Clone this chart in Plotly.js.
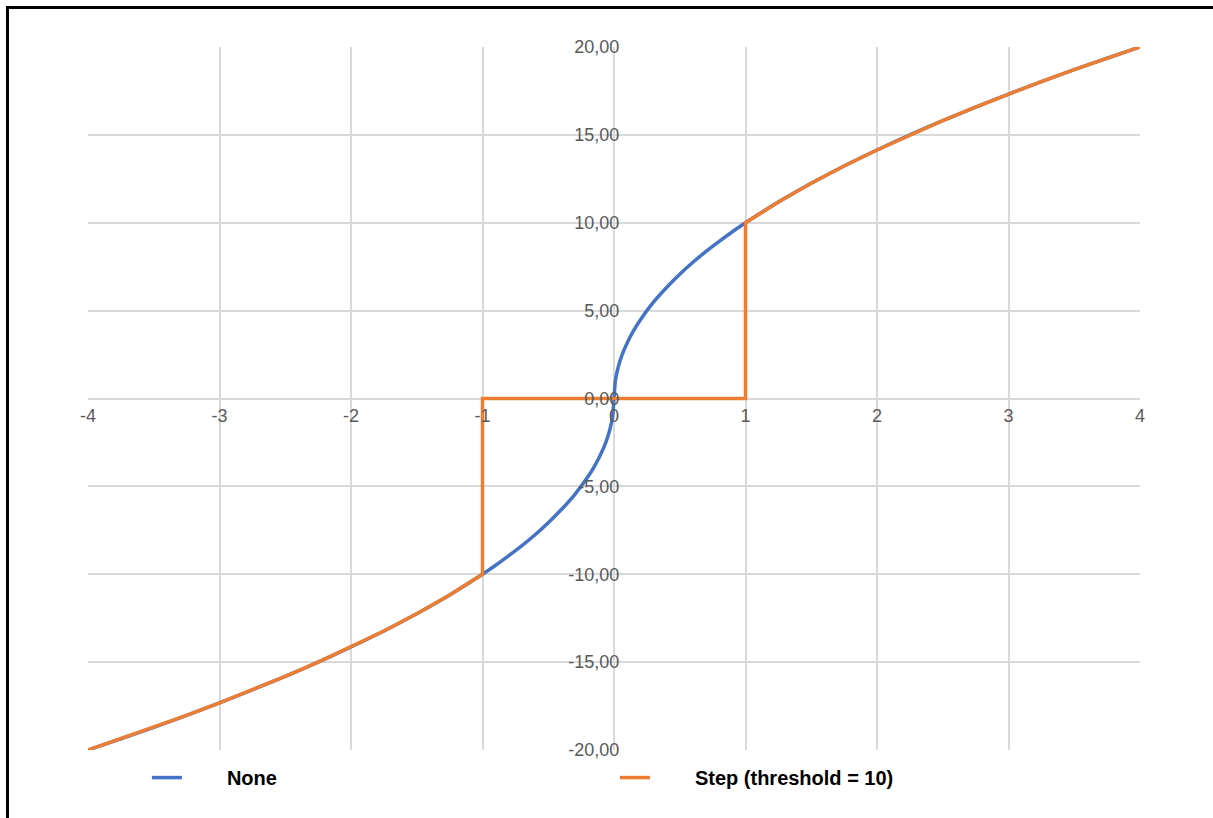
<!DOCTYPE html>
<html>
<head>
<meta charset="utf-8">
<script src="https://cdn.plot.ly/plotly-3.0.1.min.js"></script>
<style>
  html, body { margin: 0; padding: 0; background: #fff; overflow: hidden; }
  #chart { width: 1213px; height: 818px; }
  #frame { position: absolute; left: 6px; top: 6px; width: 1300px; height: 900px;
           border: 3px solid #000; pointer-events: none; box-sizing: border-box; }
</style>
</head>
<body>
<div id="chart"></div>
<div id="frame"></div>
<script>
// Series "None"
const noneX = [-4, -3.75, -3.5, -3.25, -3, -2.75, -2.5, -2.25, -2, -1.75, -1.5, -1.25, -1, -0.9, -0.8, -0.7, -0.6, -0.5, -0.4, -0.3, -0.2, -0.15, -0.1, -0.06, -0.03, -0.01, 0,
               0.01, 0.03, 0.06, 0.1, 0.15, 0.2, 0.3, 0.4, 0.5, 0.6, 0.7, 0.8, 0.9, 1, 1.25, 1.5, 1.75, 2, 2.25, 2.5, 2.75, 3, 3.25, 3.5, 3.75, 4];
const noneY = [-20, -19.36, -18.71, -18.03, -17.32, -16.58, -15.81, -15.0, -14.14, -13.23, -12.25, -11.18, -10, -9.49, -8.94, -8.37, -7.75, -7.07, -6.32, -5.48, -4.47, -3.87, -3.16, -2.45, -1.73, -1.0, 0,
               1.0, 1.73, 2.45, 3.16, 3.87, 4.47, 5.48, 6.32, 7.07, 7.75, 8.37, 8.94, 9.49, 10, 11.18, 12.25, 13.23, 14.14, 15.0, 15.81, 16.58, 17.32, 18.03, 18.71, 19.36, 20];

// Series "Step (threshold = 10)"
const stepX = [-4, -3.75, -3.5, -3.25, -3, -2.75, -2.5, -2.25, -2, -1.75, -1.5, -1.25, -1, -1, 0, 1, 1,
               1.25, 1.5, 1.75, 2, 2.25, 2.5, 2.75, 3, 3.25, 3.5, 3.75, 4];
const stepY = [-20, -19.36, -18.71, -18.03, -17.32, -16.58, -15.81, -15.0, -14.14, -13.23, -12.25, -11.18, -10, 0, 0, 0, 10,
               11.18, 12.25, 13.23, 14.14, 15.0, 15.81, 16.58, 17.32, 18.03, 18.71, 19.36, 20];

const seriesNames = ['None', 'Step (threshold = 10)'];

const xTickVals = [-4, -3, -2, -1, 0, 1, 2, 3, 4];
const xTickLabels = ['-4', '-3', '-2', '-1', '0', '1', '2', '3', '4'];
const yTickVals = [-20, -15, -10, -5, 0, 5, 10, 15, 20];
const yTickLabels = ['-20,00', '-15,00', '-10,00', '-5,00', '0,00', '5,00', '10,00', '15,00', '20,00'];

const legendPad = '\u2003\u2003';

const traces = [
  { x: noneX, y: noneY, name: legendPad + seriesNames[0], type: 'scatter', mode: 'lines',
    line: { color: '#4472C4', width: 3.5, shape: 'spline', smoothing: 0.6 } },
  { x: stepX, y: stepY, name: legendPad + seriesNames[1], type: 'scatter', mode: 'lines',
    line: { color: '#ED7D31', width: 3.5 } }
];

const tickFont = { family: 'Liberation Sans, Arial, sans-serif', size: 18, color: '#595959' };

const layout = {
  width: 1213, height: 818,
  margin: { l: 88, r: 73, t: 47, b: 68 },
  paper_bgcolor: '#fff', plot_bgcolor: '#fff',
  showlegend: true,
  legend: {
    orientation: 'h', x: 0.056, xanchor: 'left', y: -0.0115, yanchor: 'top',
    font: { family: 'Liberation Sans, Arial, sans-serif', size: 20, color: '#000', weight: 'bold' },
    itemwidth: 30, entrywidth: 423, entrywidthmode: 'pixels',
    bgcolor: 'rgba(0,0,0,0)'
  },
  xaxis: {
    range: [-4, 4], tickvals: xTickVals, ticktext: xTickLabels,
    showgrid: true, gridcolor: '#d9d9d9', gridwidth: 2,
    zeroline: false, showline: false, ticks: '', ticklabelstandoff: 4,
    anchor: 'free', position: 0.5, tickfont: tickFont, fixedrange: true
  },
  yaxis: {
    range: [-20, 20], tickvals: yTickVals, ticktext: yTickLabels,
    showgrid: true, gridcolor: '#d9d9d9', gridwidth: 2,
    zeroline: false, showline: false, ticks: '',
    anchor: 'free', position: 0.505, tickfont: tickFont, fixedrange: true
  }
};

Plotly.newPlot('chart', traces, layout, { staticPlot: true, displayModeBar: false });
</script>
</body>
</html>
